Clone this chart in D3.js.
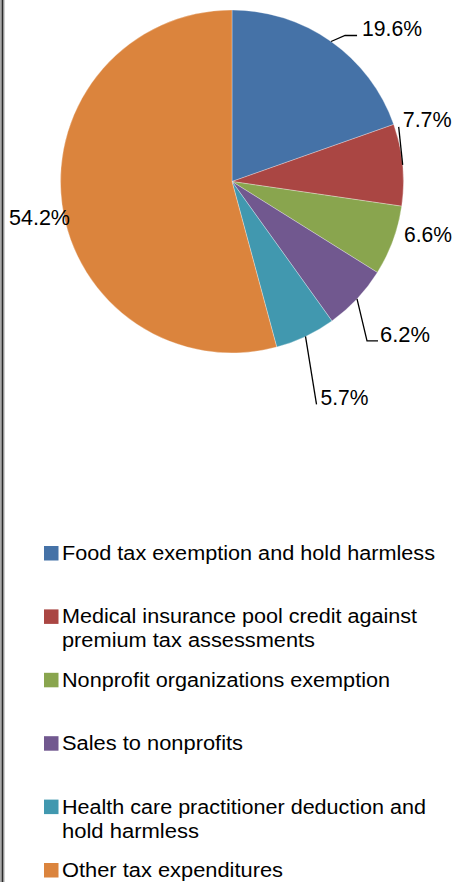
<!DOCTYPE html>
<html>
<head>
<meta charset="utf-8">
<script src="https://cdn.jsdelivr.net/npm/d3@7"></script>
<style>
  html, body { margin: 0; padding: 0; background: #fff; }
  svg { display: block; font-family: "Liberation Sans", Arial, sans-serif; }
</style>
</head>
<body>
<svg id="chart" width="456" height="882"></svg>
<script>
// data
const categories = [
  'Food tax exemption and hold harmless',
  'Medical insurance pool credit against premium tax assessments',
  'Nonprofit organizations exemption',
  'Sales to nonprofits',
  'Health care practitioner deduction and hold harmless',
  'Other tax expenditures'
];
const shares = [19.6, 7.7, 6.6, 6.2, 5.7, 54.2];
const colors = ['#4572A7', '#AA4643', '#89A54E', '#71588F', '#4198AF', '#DB843D'];

// legend lines as wrapped in the picture, with their measured widths
const legendLines = [
  ['Food tax exemption and hold harmless'],
  ['Medical insurance pool credit against', 'premium tax assessments'],
  ['Nonprofit organizations exemption'],
  ['Sales to nonprofits'],
  ['Health care practitioner deduction and', 'hold harmless'],
  ['Other tax expenditures']
];
const legendWidths = [[373], [355, 253], [328], [181], [364, 137], [221]];

// label placement relative to the slice edge point: leader bend, leader end, text start
const labelLayout = [
  { bend: [14, -6], end: [26, -6], text: [31, -5.5], width: 60 },
  { bend: [-4, -38], end: null, text: [0, -37.5], width: 49 },
  { bend: null, end: null, text: [11, 1.5], width: 48 },
  { bend: [10, 42], end: [21, 42], text: [23, 43], width: 50 },
  { bend: [11, 68], end: null, text: [15, 68.5], width: 48 },
  { bend: null, end: null, text: [-53, 21], width: 61 }
];

const svg = d3.select('#chart');

// left frame edge
svg.append('rect').attr('x', 0).attr('y', 0).attr('width', 1.6).attr('height', 882).attr('fill', '#aaa');
svg.append('rect').attr('x', 1.6).attr('y', 0).attr('width', 1.8).attr('height', 882).attr('fill', '#2a2a2a');
svg.append('rect').attr('x', 3.4).attr('y', 0).attr('width', 1).attr('height', 882).attr('fill', '#8a8a8a');

const cx = 232, cy = 181.5, r = 171.5;

const pie = d3.pie().sort(null).value(d => d);
const arcs = pie(shares);
const arc = d3.arc().innerRadius(0).outerRadius(r);
const edge = d3.arc().innerRadius(r).outerRadius(r);

const g = svg.append('g').attr('transform', `translate(${cx},${cy})`);

g.selectAll('path.slice')
  .data(arcs)
  .enter()
  .append('path')
  .attr('class', 'slice')
  .attr('d', arc)
  .attr('fill', (d, i) => colors[i])
  .attr('stroke', '#fff')
  .attr('stroke-opacity', 0.5)
  .attr('stroke-width', 0.6);

// data labels with leader lines
arcs.forEach((a, i) => {
  const [ex, ey] = edge.centroid(a);
  const L = labelLayout[i];
  if (L.bend) {
    const pts = [[ex, ey], [ex + L.bend[0], ey + L.bend[1]]];
    if (L.end) pts.push([ex + L.end[0], ey + L.end[1]]);
    g.append('path')
      .attr('d', d3.line()(pts))
      .attr('fill', 'none')
      .attr('stroke', '#000')
      .attr('stroke-width', 1.3);
  }
  g.append('text')
    .attr('x', ex + L.text[0])
    .attr('y', ey + L.text[1])
    .attr('font-size', 21.5)
    .attr('fill', '#000')
    .attr('textLength', L.width)
    .attr('lengthAdjust', 'spacingAndGlyphs')
    .text(shares[i].toFixed(1) + '%');
});

// legend
const legendY = d3.scaleLinear().domain([0, categories.length - 1]).range([560, 877]);
const legend = svg.append('g');

categories.forEach((c, i) => {
  const y = legendY(i);
  legend.append('rect')
    .attr('x', 44)
    .attr('y', y - 14)
    .attr('width', 14.5)
    .attr('height', 14.5)
    .attr('fill', colors[i]);
  legendLines[i].forEach((line, j) => {
    legend.append('text')
      .attr('x', 62)
      .attr('y', y + j * 24)
      .attr('font-size', 20)
      .attr('fill', '#000')
      .attr('textLength', legendWidths[i][j])
      .attr('lengthAdjust', 'spacingAndGlyphs')
      .text(line);
  });
});
</script>
</body>
</html>
